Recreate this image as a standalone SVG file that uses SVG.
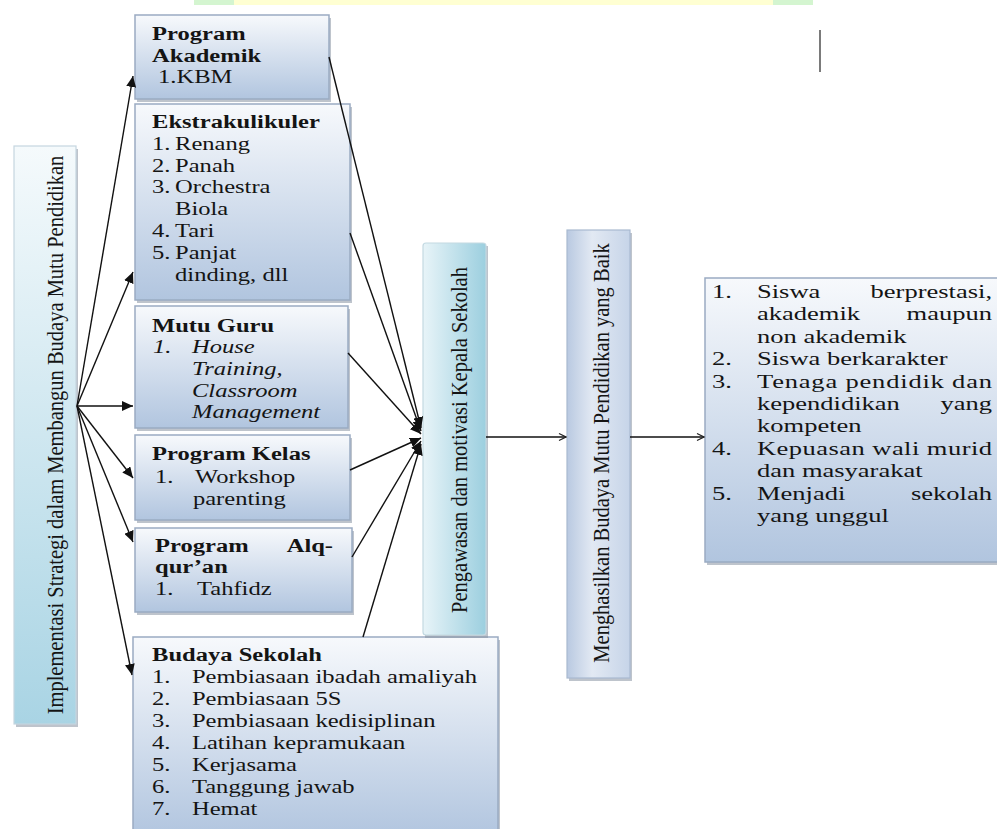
<svg xmlns="http://www.w3.org/2000/svg" width="997" height="829" viewBox="0 0 997 829">
<style>
  text { font-family: "Liberation Serif", "Times New Roman", serif; font-size: 19.5px; fill: #141414; }
  .b { font-weight: bold; }
  .i { font-style: italic; }
  .box { fill: url(#gBox); stroke: #9aabc2; stroke-width: 1.5; }
  .shadow { fill: #8893a2; opacity: 0.55; }
  .rot { font-size: 20.5px; }
  .con { stroke: #111; stroke-width: 1.4; fill: none; }
</style>
<defs>
  <linearGradient id="gBox" x1="0" y1="0" x2="0" y2="1">
    <stop offset="0" stop-color="#f7f9fc"/>
    <stop offset="1" stop-color="#b1c5df"/>
  </linearGradient>
  <linearGradient id="gLeft" x1="0" y1="0" x2="0" y2="1">
    <stop offset="0" stop-color="#f5fafc"/>
    <stop offset="1" stop-color="#a9d4e4"/>
  </linearGradient>
  <linearGradient id="gPeng" x1="0" y1="0" x2="1" y2="0">
    <stop offset="0" stop-color="#e8f4f8"/>
    <stop offset="1" stop-color="#9ccfdf"/>
  </linearGradient>
  <linearGradient id="gMeng" x1="0" y1="0" x2="1" y2="0">
    <stop offset="0" stop-color="#b9c9e1"/>
    <stop offset="0.4" stop-color="#e2e9f3"/>
    <stop offset="1" stop-color="#c6d4e8"/>
  </linearGradient>
  <marker id="ah" markerUnits="userSpaceOnUse" markerWidth="12" markerHeight="10" refX="11" refY="5" orient="auto">
    <path d="M0,0 L11,5 L0,10 z" fill="#111"/>
  </marker>
  <marker id="oa" markerUnits="userSpaceOnUse" markerWidth="10" markerHeight="10" refX="9" refY="5" orient="auto">
    <path d="M2,1.5 L9,5 L2,8.5" fill="none" stroke="#222" stroke-width="1.2"/>
  </marker>
</defs>

<rect width="997" height="829" fill="#ffffff"/>

<!-- top band -->
<g id="topband">
  <rect x="194" y="0" width="619" height="5" fill="#ffffd2"/>
  <rect x="194" y="0" width="40" height="5" fill="#d4f5d0"/>
  <rect x="773" y="0" width="40" height="5" fill="#d4f5d0"/>
  <line x1="820" y1="30" x2="820" y2="72" stroke="#333" stroke-width="1.3"/>
</g>

<!-- left box -->
<g id="node-strategi">
  <rect class="shadow" x="16" y="149" width="62" height="578"/>
  <rect x="14" y="146" width="62" height="578" fill="url(#gLeft)" stroke="#c5d6df" stroke-width="1.2"/>
  <text class="rot" text-anchor="middle" transform="translate(63,435) scale(1.12,1) rotate(-90)">Implementasi Strategi dalam Membangun Budaya Mutu Pendidikan</text>
</g>

<!-- Program Akademik -->
<g id="node-akademik">
  <rect class="shadow" x="137" y="18" width="194" height="84"/>
  <rect class="box" x="135" y="15" width="194" height="84"/>
  <g transform="matrix(1.26 0 0 1 152 0)">
    <text class="b" x="0" y="40">Program</text>
    <text class="b" x="0" y="62">Akademik</text>
    <text x="4.8" y="83">1.KBM</text>
  </g>
</g>

<!-- Ekstrakulikuler -->
<g id="node-ekstra">
  <rect class="shadow" x="137" y="107" width="215" height="196"/>
  <rect class="box" x="135" y="104" width="215" height="196"/>
  <g transform="matrix(1.26 0 0 1 152 0)">
    <text class="b" x="0" y="128">Ekstrakulikuler</text>
    <text x="0" y="150">1.</text><text x="18.3" y="150">Renang</text>
    <text x="0" y="172">2.</text><text x="18.3" y="172">Panah</text>
    <text x="0" y="193">3.</text><text x="18.3" y="193">Orchestra</text>
    <text x="18.3" y="215">Biola</text>
    <text x="0" y="237">4.</text><text x="18.3" y="237">Tari</text>
    <text x="0" y="259">5.</text><text x="18.3" y="259">Panjat</text>
    <text x="18.3" y="281">dinding, dll</text>
  </g>
</g>

<!-- Mutu Guru -->
<g id="node-mutuguru">
  <rect class="shadow" x="137" y="309" width="213" height="122"/>
  <rect class="box" x="135" y="306" width="213" height="122"/>
  <g transform="matrix(1.26 0 0 1 152 0)">
    <text class="b" x="0" y="332">Mutu Guru</text>
    <text class="i" x="0.8" y="353">1.</text><text class="i" x="31.7" y="353">House</text>
    <text class="i" x="31.7" y="375">Training,</text>
    <text class="i" x="31.7" y="397">Classroom</text>
    <text class="i" x="31.7" y="418">Management</text>
  </g>
</g>

<!-- Program Kelas -->
<g id="node-kelas">
  <rect class="shadow" x="137" y="438" width="215" height="85"/>
  <rect class="box" x="135" y="435" width="215" height="85"/>
  <g transform="matrix(1.26 0 0 1 152 0)">
    <text class="b" x="0" y="460">Program Kelas</text>
    <text x="2.4" y="483">1.</text><text x="34.1" y="483">Workshop</text>
    <text x="32.5" y="505">parenting</text>
  </g>
</g>

<!-- Program Alq-qur'an -->
<g id="node-alquran">
  <rect class="shadow" x="137" y="531" width="217" height="84"/>
  <rect class="box" x="135" y="528" width="217" height="84"/>
  <g transform="matrix(1.26 0 0 1 152 0)">
    <text class="b" x="2.4" y="552">Program</text>
    <text class="b" x="143.7" y="552" text-anchor="end">Alq-</text>
    <text class="b" x="2.4" y="573">qur’an</text>
    <text x="2.4" y="595">1.</text><text x="35.7" y="595">Tahfidz</text>
  </g>
</g>

<!-- Budaya Sekolah -->
<g id="node-budaya">
  <rect class="shadow" x="135" y="640" width="365" height="200"/>
  <rect class="box" x="133" y="637" width="365" height="200"/>
  <g transform="matrix(1.26 0 0 1 152 0)">
    <text class="b" x="0" y="661">Budaya Sekolah</text>
    <text x="0" y="683">1.</text><text x="31.7" y="683">Pembiasaan ibadah amaliyah</text>
    <text x="0" y="705">2.</text><text x="31.7" y="705">Pembiasaan 5S</text>
    <text x="0" y="727">3.</text><text x="31.7" y="727">Pembiasaan kedisiplinan</text>
    <text x="0" y="749">4.</text><text x="31.7" y="749">Latihan kepramukaan</text>
    <text x="0" y="771">5.</text><text x="31.7" y="771">Kerjasama</text>
    <text x="0" y="793">6.</text><text x="31.7" y="793">Tanggung jawab</text>
    <text x="0" y="815">7.</text><text x="31.7" y="815">Hemat</text>
  </g>
</g>

<!-- Pengawasan -->
<g id="node-pengawasan">
  <rect class="shadow" x="425" y="246" width="63" height="392"/>
  <rect x="423" y="243" width="63" height="392" rx="3" fill="url(#gPeng)" stroke="#c3d9e2" stroke-width="1.2"/>
  <text class="rot" text-anchor="middle" transform="translate(467,440) scale(1.12,1) rotate(-90)">Pengawasan dan motivasi Kepala Sekolah</text>
</g>

<!-- Menghasilkan -->
<g id="node-menghasilkan">
  <rect class="shadow" x="569" y="233" width="63" height="448"/>
  <rect x="567" y="230" width="63" height="448" fill="url(#gMeng)" stroke="#a9b9d0" stroke-width="1.2"/>
  <text class="rot" text-anchor="middle" transform="translate(609,453) scale(1.12,1) rotate(-90)">Menghasilkan Budaya Mutu Pendidikan yang Baik</text>
</g>

<!-- Result -->
<g id="node-hasil">
  <rect class="shadow" x="707" y="281" width="300" height="284"/>
  <rect class="box" x="705" y="278" width="300" height="284"/>
  <g transform="matrix(1.36 0 0 1 712 0)">
    <text x="0" y="298">1.</text><text x="33.1" y="298">Siswa</text><text x="205.9" y="298" text-anchor="end">berprestasi,</text>
    <text x="33.1" y="320">akademik</text><text x="205.9" y="320" text-anchor="end">maupun</text>
    <text x="33.1" y="343">non akademik</text>
    <text x="0" y="365">2.</text><text x="33.1" y="365">Siswa berkarakter</text>
    <text x="0" y="388">3.</text><text x="33.1" y="388" textLength="172.8" lengthAdjust="spacing">Tenaga pendidik dan</text>
    <text x="33.1" y="410">kependidikan</text><text x="205.9" y="410" text-anchor="end">yang</text>
    <text x="33.1" y="432">kompeten</text>
    <text x="0" y="455">4.</text><text x="33.1" y="455" textLength="172.8" lengthAdjust="spacing">Kepuasan wali murid</text>
    <text x="33.1" y="477">dan masyarakat</text>
    <text x="0" y="500">5.</text><text x="33.1" y="500">Menjadi</text><text x="205.9" y="500" text-anchor="end">sekolah</text>
    <text x="33.1" y="522">yang unggul</text>
  </g>
</g>

<!-- connectors -->
<g id="connectors">
  <g class="con" marker-end="url(#ah)">
    <line x1="77" y1="406" x2="133" y2="76"/>
    <line x1="77" y1="406" x2="133" y2="272"/>
    <line x1="77" y1="406" x2="133" y2="406"/>
    <line x1="77" y1="406" x2="133" y2="478"/>
    <line x1="77" y1="406" x2="133" y2="542"/>
    <line x1="77" y1="406" x2="132" y2="675"/>
    <line x1="329" y1="57" x2="421" y2="428"/>
    <line x1="350" y1="233" x2="421" y2="431"/>
    <line x1="348" y1="353" x2="421" y2="434"/>
    <line x1="350" y1="470" x2="421" y2="438"/>
    <line x1="352" y1="557" x2="421" y2="441"/>
    <line x1="363" y1="637" x2="421" y2="444"/>
  </g>
  <g class="con" stroke-width="1.2" marker-end="url(#oa)">
    <line x1="486" y1="437" x2="566" y2="437"/>
    <line x1="630" y1="437" x2="704" y2="437"/>
  </g>
</g>
</svg>
